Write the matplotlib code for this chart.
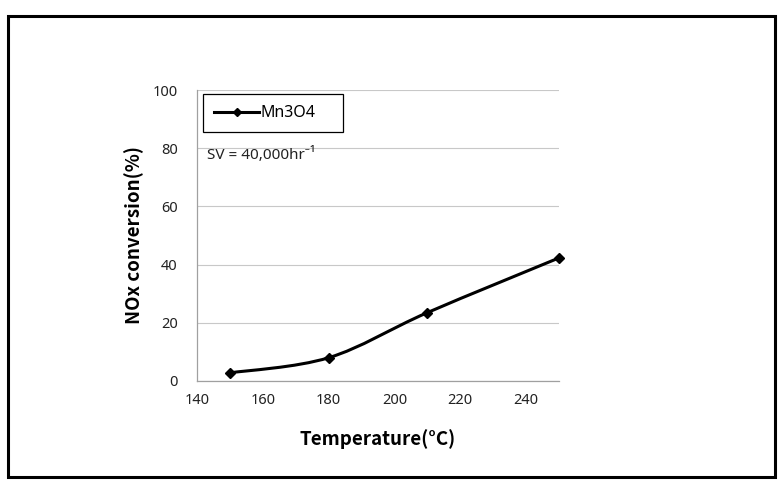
import matplotlib
matplotlib.use('Agg')
import matplotlib.pyplot as plt
from matplotlib.path import Path
from matplotlib.patches import PathPatch, Rectangle
from matplotlib.lines import Line2D

plt.rcParams['font.family'] = ['Noto Sans', 'DejaVu Sans']

temps = [150, 180, 210, 250]
conversion = [2.8, 8.0, 23.5, 42.3]
series_name = 'Mn3O4'
x_ticks = [140, 160, 180, 200, 220, 240]
y_ticks = [0, 20, 40, 60, 80, 100]

fig = plt.figure(figsize=(7.8, 4.91), dpi=100)
# outer chart border
fig.patches.append(Rectangle((8/780, 1-477/491), 767/780, 461/491, transform=fig.transFigure,
                             fill=False, edgecolor='black', linewidth=2.2))

ax = fig.add_axes([197/780, 1-381/491, 362/780, 291/491])
ax.set_xlim(140, 250)
ax.set_ylim(0, 100)
ax.set_xticks(x_ticks)
ax.set_yticks(y_ticks)
ax.tick_params(axis='y', length=0, labelsize=10.5, colors='#222222', pad=14)
ax.tick_params(axis='x', length=0, labelsize=10.5, colors='#222222', pad=9)
ax.grid(axis='y', color='#c8c8c8', linewidth=0.8)
ax.set_axisbelow(True)
for s in ['top', 'right']:
    ax.spines[s].set_visible(False)
for s in ['left', 'bottom']:
    ax.spines[s].set_color('#a0a0a0')
    ax.spines[s].set_linewidth(0.9)

# smoothed line like Excel (Catmull-Rom as cubic bezier)
verts = [(temps[0], conversion[0])]
codes = [Path.MOVETO]
n = len(temps)
for i in range(n - 1):
    p0 = (temps[max(i-1, 0)], conversion[max(i-1, 0)])
    p1 = (temps[i], conversion[i])
    p2 = (temps[i+1], conversion[i+1])
    p3 = (temps[min(i+2, n-1)], conversion[min(i+2, n-1)])
    c1 = (p1[0] + (p2[0]-p0[0])/6, p1[1] + (p2[1]-p0[1])/6)
    c2 = (p2[0] - (p3[0]-p1[0])/6, p2[1] - (p3[1]-p1[1])/6)
    verts += [c1, c2, p2]
    codes += [Path.CURVE4]*3
ax.add_patch(PathPatch(Path(verts, codes), fill=False, edgecolor='black', linewidth=2.2, clip_on=False))
ax.plot(temps, conversion, linestyle='none', marker='D', markersize=5.5, color='black', clip_on=False)

# legend
handle = Line2D([], [], color='black', linewidth=2.2, marker='D', markersize=4.5)
leg = ax.legend([handle], [series_name], loc='upper left', mode='expand',
                bbox_to_anchor=(6/362, 0, 140/362, 1-4/291),
                fancybox=False, edgecolor='black', framealpha=1, fontsize=11.5,
                handlelength=2.8, borderpad=0.7, handletextpad=0.1, borderaxespad=0)
leg.get_frame().set_linewidth(0.9)

ax.text(10/362, 1-65/291, 'SV = 40,000hr\u207b\u00b9', transform=ax.transAxes, fontsize=11,
        color='#222222', va='center')

lab_font = dict(family=['Noto Sans CJK KR', 'DejaVu Sans'], fontsize=13.5, fontweight='bold')
ax.set_xlabel('Temperature(\u00b0C)', labelpad=15, **lab_font)
ax.set_ylabel('NOx conversion(%)', labelpad=6, **lab_font)

fig.savefig('out.png', dpi=100)
